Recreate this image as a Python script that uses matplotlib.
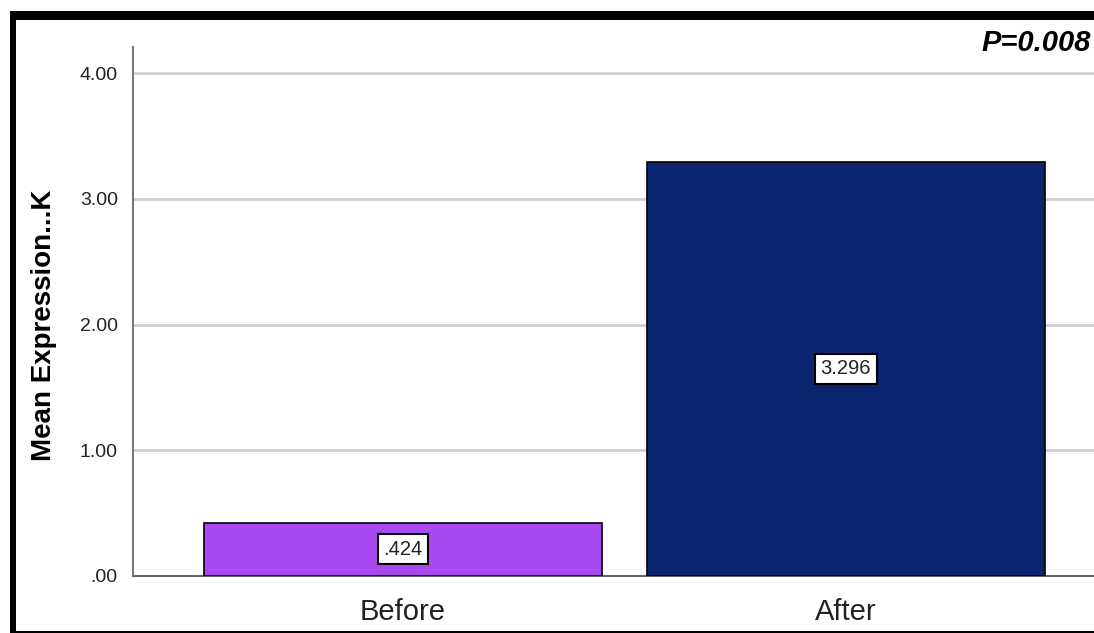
import matplotlib
matplotlib.use("Agg")
import matplotlib.pyplot as plt
from matplotlib.patches import Rectangle

categories = ["Before", "After"]
values = [0.424, 3.296]
value_labels = [".424", "3.296"]
yticks = [0, 1, 2, 3, 4]
ytick_labels = [".00", "1.00", "2.00", "3.00", "4.00"]
colors = ["#a84af0", "#0a2670"]
ylabel = "Mean Expression...K"
p_text = "P=0.008"

plt.rcParams['font.family'] = ['Liberation Sans', 'DejaVu Sans']

W, H = 1094, 633
fig = plt.figure(figsize=(W / 100, H / 100), dpi=100)
fig.patch.set_facecolor("white")

ax = fig.add_axes([133 / W, (H - 576) / H, (W - 133) / W, (576 - 47) / H])
x = list(range(len(categories)))
bars = ax.bar(x, values, width=0.898, color=colors, edgecolor="black",
              linewidth=1.2, zorder=3)
ax.set_xlim(-0.609, 1.560)
ax.set_ylim(0, 4.207)
ax.set_yticks(yticks)
ax.set_yticklabels(ytick_labels, fontsize=14, color="#222222", va="center_baseline")
ax.set_xticks(x)
ax.set_xticklabels(categories, fontsize=21, color="#222222")
ax.tick_params(axis="both", length=0)
ax.tick_params(axis="y", pad=11)
ax.tick_params(axis="x", pad=16)
ax.yaxis.grid(True, color="#cfcfcf", linewidth=2, zorder=0)
ax.set_axisbelow(True)
for s in ["top", "right"]:
    ax.spines[s].set_visible(False)
ax.spines["left"].set_color("#777777")
ax.spines["left"].set_linewidth(1.5)
ax.spines["bottom"].set_color("#666666")
ax.spines["bottom"].set_linewidth(1.5)
ax.set_ylabel(ylabel, fontsize=20, fontweight="bold")
ax.yaxis.set_label_coords(-(133 - 57) / (W - 133), 0.474)

for xi, v, lab in zip(x, values, value_labels):
    ax.text(xi, v / 2, lab, ha="center", va="center", fontsize=14.5, color="#222222",
            zorder=5,
            bbox=dict(boxstyle="square,pad=0.28", facecolor="white",
                      edgecolor="black", linewidth=1.5))

fig.text(1091 / W, 1 - 43 / H, p_text, fontsize=21, fontweight="bold",
         fontstyle="italic", ha="right", va="center")

# frame decorations
fig.patches.append(Rectangle((10 / W, 1 - 20 / H), 1, 9 / H, transform=fig.transFigure,
                             facecolor="black", edgecolor="none"))
fig.patches.append(Rectangle((10 / W, 0), 6 / W, 1 - 11 / H, transform=fig.transFigure,
                             facecolor="black", edgecolor="none"))
fig.patches.append(Rectangle((10 / W, 0), 1, 2 / H, transform=fig.transFigure,
                             facecolor="black", edgecolor="none"))

fig.savefig("out.png", dpi=100)
